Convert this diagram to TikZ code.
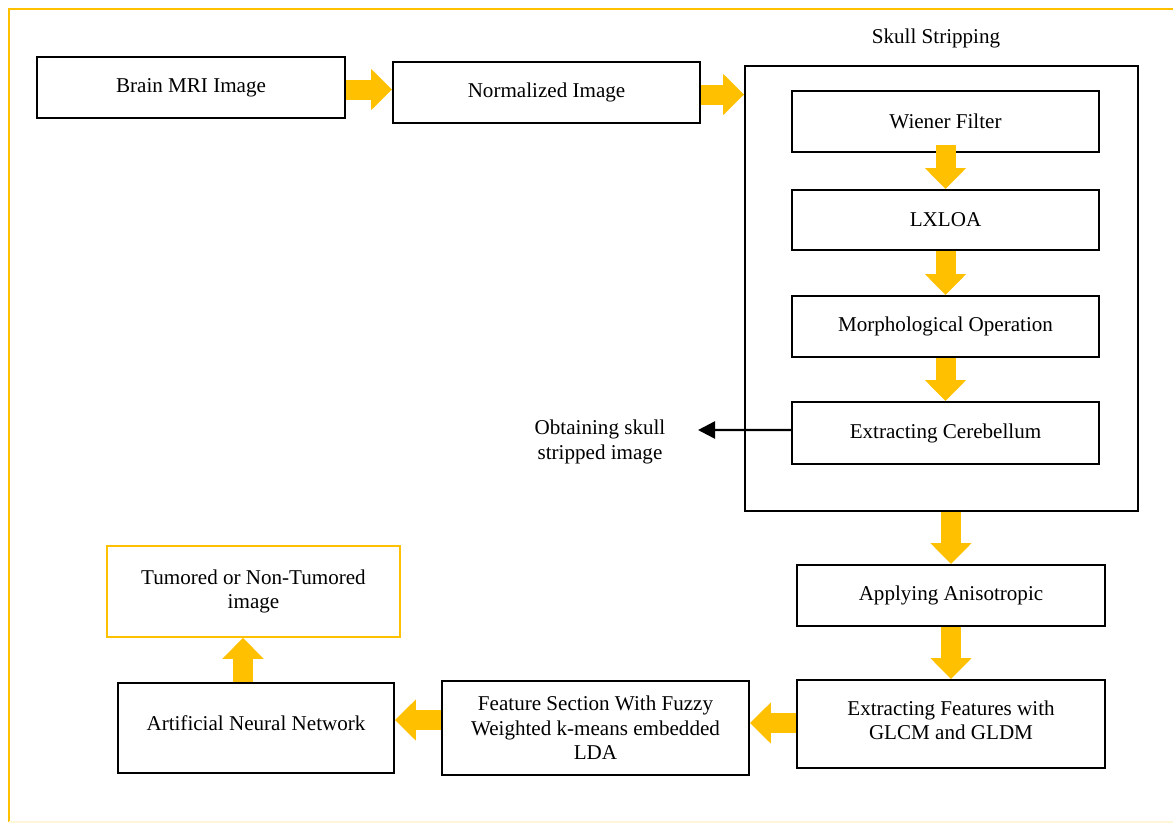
\documentclass[tikz,border=0pt]{standalone}
\usepackage{fontspec}
\setmainfont{Liberation Serif}
\usetikzlibrary{positioning}
\usetikzlibrary{arrows.meta}

\definecolor{ambr}{RGB}{255,192,0}
\definecolor{ambredge}{RGB}{214,160,0}

\begin{document}
\begin{tikzpicture}[x=0.02cm,y=-0.02cm,
  stepbox/.style={draw, line width=1.1pt, minimum width=6.14cm, minimum height=1.22cm,
    align=center, inner sep=2pt, font=\fontsize{12}{14}\selectfont},
  fat/.style={draw=ambr, line width=0.4cm, -{Triangle[width=0.8cm,length=0.42cm]}}]
  % frame of the figure
  \useasboundingbox (0,0) rectangle (1173,823);
  \draw[ambr, line width=1.5pt] (1173,9) -- (9,9) -- (9,822);
  \draw[ambr!15, line width=1pt] (9,822) -- (1173,822);

  % top row
  \node[stepbox, minimum width=6.16cm] (brain) at (191,87.5) {Brain MRI Image};
  \node[stepbox] (norm) at (546.5,92.5) {Normalized Image};

  % skull stripping block
  \node[draw, line width=1.1pt, minimum width=7.86cm, minimum height=8.9cm] (skull) at (941.5,288.5) {};
  \node[font=\fontsize{12}{14}\selectfont] (skulltitle) at (936,38) {Skull Stripping};
  \node[stepbox] (wiener) at (945.5,121.5) {Wiener Filter};
  \node[stepbox, minimum height=1.2cm] (lxloa) at (945.5,220) {LXLOA};
  \node[stepbox] (morph) at (945.5,326.5) {Morphological Operation};
  \node[stepbox, minimum height=1.24cm] (cereb) at (945.5,433) {Extracting Cerebellum};
  \node[font=\fontsize{12}{14}\selectfont, align=center] (obtain) at (600,442) {Obtaining skull\\stripped image};
  \coordinate (obtaintip) at (698,430);

  % lower part
  \node[stepbox, minimum width=6.16cm] (aniso) at (951,595.5) {Applying Anisotropic};
  \node[stepbox, minimum width=6.16cm, minimum height=1.76cm, text depth=0.15cm] (extr) at (951,724) {Extracting Features with\\GLCM and GLDM};
  \node[stepbox, minimum height=1.88cm] (feat) at (595.5,728) {Feature Section With Fuzzy\\Weighted k-means embedded\\LDA};
  \node[stepbox, minimum width=5.52cm, minimum height=1.8cm, text depth=0.2cm] (ann) at (256,728) {Artificial Neural Network};
  \node[stepbox, draw=ambr, line width=0.9pt, minimum width=5.86cm, minimum height=1.82cm,
    text depth=0.1cm] (tum) at (253.5,591.5) {Tumored or Non-Tumored\\image};

  % arrows
  \draw[fat] ([yshift=-0.04cm]brain.east) -- ([yshift=-0.04cm]brain.east -| norm.west);
  \draw[fat] ([yshift=-0.04cm]norm.east) -- ([yshift=-0.04cm]norm.east -| skull.west);
  \draw[fat] ([yshift=0.15cm]wiener.south) -- (lxloa.north);
  \draw[fat] (lxloa.south) -- (morph.north);
  \draw[fat] (morph.south) -- (cereb.north);
  \draw[fat] (aniso.north |- skull.south) -- (aniso.north);
  \draw[fat] (aniso.south) -- (extr.north);
  \draw[fat] ([yshift=0.02cm]extr.west) -- ([yshift=0.02cm]extr.west -| feat.east);
  \draw[fat] ([yshift=0.16cm]feat.west) -- ([yshift=0.16cm]feat.west -| ann.east);
  \draw[fat] ([xshift=-0.26cm]ann.north) -- ([xshift=-0.26cm]ann.north |- tum.south);
  \draw[line width=1.4pt, -{Triangle[width=0.34cm,length=0.34cm]}] ([yshift=0.06cm]cereb.west) -- (obtaintip);
\end{tikzpicture}
\end{document}
